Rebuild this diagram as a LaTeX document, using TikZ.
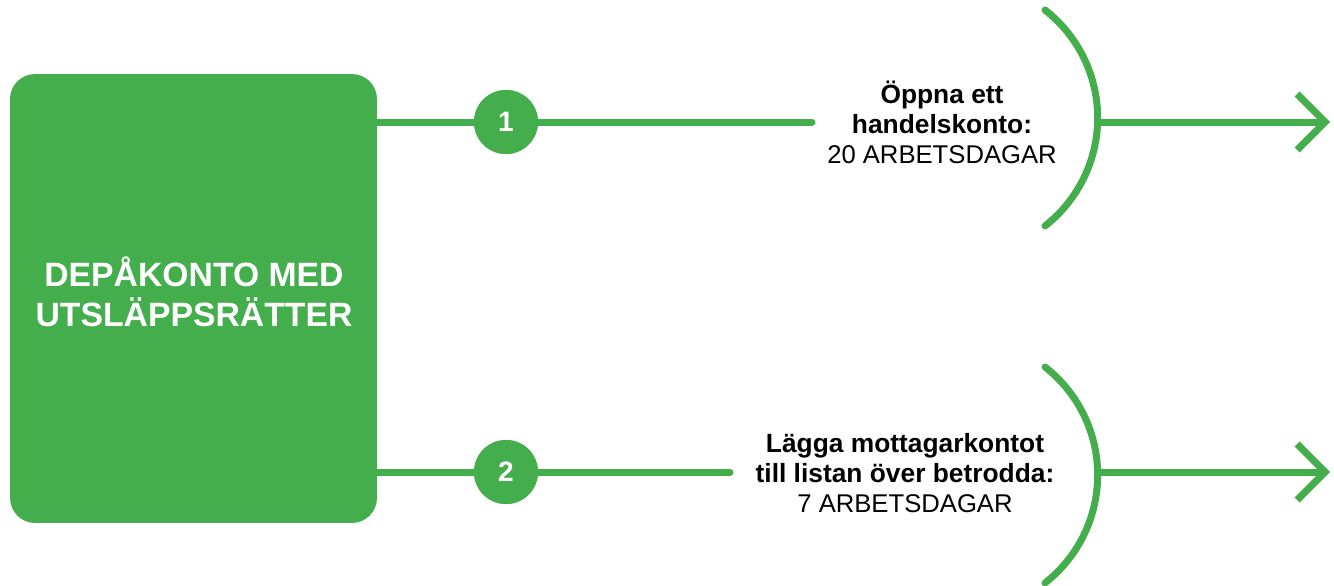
\documentclass[tikz,border=0pt]{standalone}
\usepackage{fontspec}
\setmainfont{Liberation Sans}
\usepackage{tikz}
\usetikzlibrary{arrows.meta}
\usetikzlibrary{calc}
\usetikzlibrary{positioning}

\definecolor{depagreen}{RGB}{67,174,75}
\newcommand{\workdays}[1]{{\fontsize{14.6}{17}\selectfont #1}}

\begin{document}
\begin{tikzpicture}[x=0.02cm,y=-0.02cm,
    greenline/.style={draw=depagreen,line width=0.14cm},
    numdot/.style={circle,fill=depagreen,minimum size=1.28cm,inner sep=0pt,
      text=white,font=\fontsize{16}{18}\selectfont\bfseries},
    steplabel/.style={align=center,font=\fontsize{15}{17}\selectfont}]

  \useasboundingbox (0,0) rectangle (1334,585);

  \node [fill=depagreen,rounded corners=0.5cm,minimum width=7.34cm,minimum height=8.98cm] (depa) at (193.5,298.5) {};
  \node [align=center,text=white,font=\fontsize{19.2}{22.5}\selectfont\bfseries] (depatxt) at (194,292)
    {DEPÅKONTO MED\\UTSLÄPPSRÄTTER};

  \coordinate (end1) at (812,122);
  \coordinate (end2) at (730,472);
  \node [numdot] (n1) at (506,122) {1};
  \node [numdot] (n2) at (506,472) {2};

  \path [greenline,line cap=round]
    (depa.east |- n1) edge (end1)
    (depa.east |- n2) edge (end2);
  \node [numdot] at (n1) {1};
  \node [numdot] at (n2) {2};

  \node [steplabel] (lab1) at (942,122)
    {\textbf{Öppna ett}\\\textbf{handelskonto:}\\\workdays{20 ARBETSDAGAR}};
  \node [steplabel] (lab2) at (905,473)
    {\textbf{Lägga mottagarkontot}\\\textbf{till listan över betrodda:}\\\workdays{7 ARBETSDAGAR}};

  % bows
  \coordinate (bow1) at (1045,10);
  \coordinate (bow2) at (1045,367);
  \draw [greenline,line cap=round] (bow1) arc [start angle=-52,end angle=52,radius=137];
  \draw [greenline,line cap=round] (bow2) arc [start angle=-52,end angle=52,radius=137];

  \coordinate (from1) at (1097,122);
  \coordinate (from2) at (1097,472);
  \coordinate (tip1) at (1330,122);
  \coordinate (tip2) at (1330,472);

  \draw [greenline,-{Straight Barb[length=0.56cm,width=1.12cm]}] (from1) -- (tip1);
  \draw [greenline,-{Straight Barb[length=0.56cm,width=1.12cm]}] (from2) -- (tip2);
\end{tikzpicture}
\end{document}
